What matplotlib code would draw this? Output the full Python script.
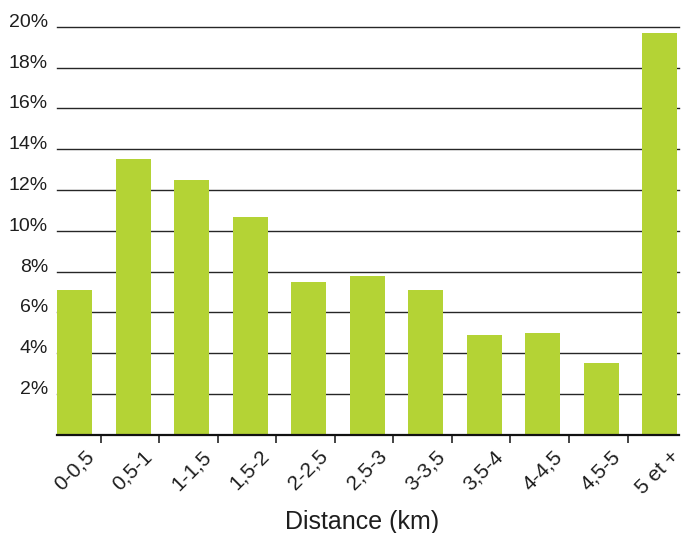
import matplotlib
matplotlib.use("Agg")
import matplotlib.pyplot as plt
from matplotlib.transforms import ScaledTranslation

plt.rcParams['font.family'] = ['Liberation Sans', 'DejaVu Sans']

# Share of trips by distance band
categories = ["0-0,5", "0,5-1", "1-1,5", "1,5-2", "2-2,5", "2,5-3",
              "3-3,5", "3,5-4", "4-4,5", "4,5-5", "5 et +"]
shares = [7.1, 13.5, 12.5, 10.7, 7.5, 7.8, 7.1, 4.9, 5.0, 3.5, 19.7]
y_ticks = [2, 4, 6, 8, 10, 12, 14, 16, 18, 20]
y_tick_labels = [f"{v}%" for v in y_ticks]
x_title = "Distance (km)"

W, H, DPI = 684, 533, 100
fig = plt.figure(figsize=(W / DPI, H / DPI), dpi=DPI)
ax = fig.add_axes([57 / W, 1 - 434.7 / H, (679 - 57) / W, (434.7 - 25.9) / H])

bar_color = "#b4d335"
text_color = "#1e1e1e"
positions = list(range(len(categories)))

# horizontal reference lines
for v in y_ticks:
    ax.axhline(v, color="#262626", lw=1.0, zorder=1, clip_on=False)

ax.bar(positions, shares, width=0.6, color=bar_color, zorder=2)

ax.set_xlim(-0.3, 10.33)
ax.set_ylim(0, 20.05)

for side in ("top", "right", "left"):
    ax.spines[side].set_visible(False)
ax.spines["bottom"].set_color("#111111")
ax.spines["bottom"].set_linewidth(1.6)
ax.spines["bottom"].set_zorder(3)

# separators between categories
ax.set_xticks([p + 0.45 for p in positions[:-1]])
ax.set_xticklabels([])
ax.tick_params(axis="x", direction="out", length=6, width=1.1, color="#111111")
ax.set_yticks([])

# y labels sit just above each line
ytrans = ax.get_yaxis_transform() + ScaledTranslation(-9 / DPI, 4.5 / DPI, fig.dpi_scale_trans)
for v, lab in zip(y_ticks, y_tick_labels):
    ax.text(0, v, lab, transform=ytrans, ha="right", va="center",
            fontsize=14, color=text_color)

# rotated category labels
xtrans = ax.get_xaxis_transform() + ScaledTranslation(-8 / DPI, -12 / DPI, fig.dpi_scale_trans)
for p, lab in zip(positions, categories):
    ax.text(p + 0.3, 0, lab, transform=xtrans, rotation=45, rotation_mode="anchor",
            ha="right", va="top", fontsize=15, color=text_color)

fig.text(362 / W, 1 - 522 / H, x_title, ha="center", va="center",
         fontsize=18, color=text_color)

fig.savefig("out.png", dpi=DPI)
